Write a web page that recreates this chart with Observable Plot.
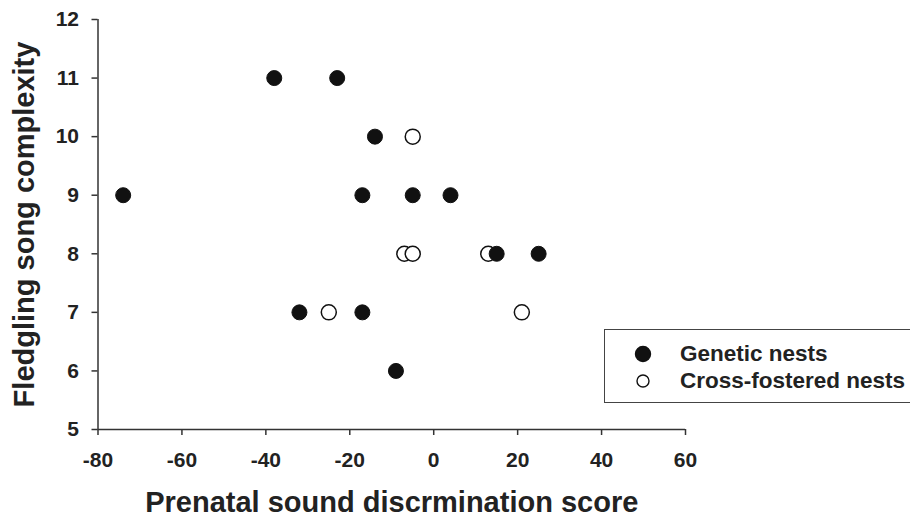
<!DOCTYPE html>
<html>
<head>
<meta charset="utf-8">
<script src="https://cdn.jsdelivr.net/npm/d3@7"></script>
<script src="https://cdn.jsdelivr.net/npm/@observablehq/plot@0.6"></script>
<style>
  html, body { margin: 0; padding: 0; background: #fff; overflow: hidden; }
  #wrap { position: relative; width: 910px; height: 520px; }
  #legend {
    position: absolute; left: 604px; top: 329px; width: 320px; height: 74px;
    border: 1.5px solid #444; box-sizing: border-box; background: #fff;
    font-family: "Liberation Sans", Arial, sans-serif; font-weight: bold; font-size: 22.5px; color: #222;
  }
  .row { position: absolute; left: 0; display: flex; align-items: center; height: 26px; }
  .row svg { position: absolute; left: 28px; }
  .row span { position: absolute; left: 75px; white-space: nowrap; }
</style>
</head>
<body>
<div id="wrap"></div>
<script>
// Data
const geneticX = [-74, -38, -23, -14, -17, -5, 4, 15, 25, -32, -17, -9];
const geneticY = [9, 11, 11, 10, 9, 9, 9, 8, 8, 7, 7, 6];
const crossX = [-5, -7, -5, 13, -25, 21];
const crossY = [10, 8, 8, 8, 7, 7];
const xTicks = [-80, -60, -40, -20, 0, 20, 40, 60];
const yTicks = [5, 6, 7, 8, 9, 10, 11, 12];
const xTitle = "Prenatal sound discrmination score";
const yTitle = "Fledgling song complexity";
const legendLabels = ["Genetic nests", "Cross-fostered nests"];

const genetic = geneticX.map((x, i) => ({x, y: geneticY[i]}));
const cross = crossX.map((x, i) => ({x, y: crossY[i]}));

const ink = "#222";
const chart = Plot.plot({
  width: 910,
  height: 520,
  marginLeft: 97.5,
  marginRight: 225,
  marginTop: 19,
  marginBottom: 91,
  style: {fontFamily: "'Liberation Sans', Arial, sans-serif", fontWeight: "bold", color: ink, background: "#fff"},
  x: {domain: [-80, 60]},
  y: {domain: [5, 12]},
  marks: [
    Plot.axisX({ticks: xTicks, tickSize: 6, tickPadding: 17, tickFormat: d => String(d), fontSize: 21, label: null, stroke: "#333", strokeWidth: 1.5, strokeOpacity: 1}),
    Plot.axisY({ticks: yTicks, tickSize: 6, tickPadding: 13, tickFormat: d => String(d), fontSize: 21, label: null, stroke: "#333", strokeWidth: 1.5, strokeOpacity: 1}),
    Plot.ruleY([5], {stroke: "#333", strokeWidth: 1.5}),
    Plot.ruleX([-80], {stroke: "#333", strokeWidth: 1.5}),
    Plot.dot(cross, {x: "x", y: "y", r: 7.5, fill: "#fff", stroke: "#111", strokeWidth: 1.5}),
    Plot.dot(genetic, {x: "x", y: "y", r: 7.5, fill: "#111", stroke: "#111", strokeWidth: 1}),
    Plot.text([xTitle], {frameAnchor: "bottom", dy: 73, lineAnchor: "middle", textAnchor: "middle", fontSize: 29, fontWeight: "bold", fill: ink}),
    Plot.text([yTitle], {frameAnchor: "left", rotate: -90, dx: -73, lineAnchor: "middle", textAnchor: "middle", fontSize: 29, fontWeight: "bold", fill: ink})
  ]
});
const wrap = document.getElementById("wrap");
wrap.appendChild(chart);

// Legend
const legend = document.createElement("div");
legend.id = "legend";
const styles = [{fill: "#111", r: 7.5}, {fill: "#fff", r: 6}];
legendLabels.forEach((lab, i) => {
  const row = document.createElement("div");
  row.className = "row";
  row.style.top = (11 + i * 27) + "px";
  const s = styles[i];
  row.innerHTML = `<svg width="20" height="20" viewBox="-10 -10 20 20"><circle r="${s.r}" fill="${s.fill}" stroke="#111" stroke-width="1.4"/></svg><span>${lab}</span>`;
  legend.appendChild(row);
});
wrap.appendChild(legend);
</script>
</body>
</html>
